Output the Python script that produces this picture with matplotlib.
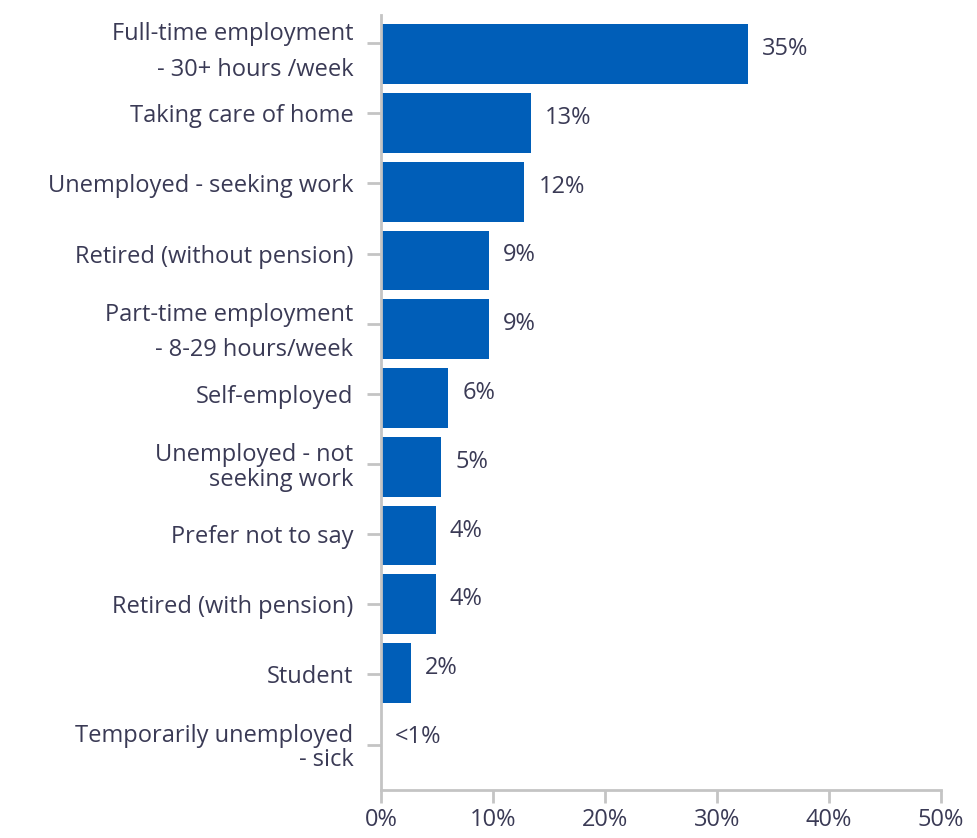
import matplotlib
matplotlib.use("Agg")
import matplotlib.pyplot as plt

# data
categories = [
    "Full-time employment\n- 30+ hours /week",
    "Taking care of home",
    "Unemployed - seeking work",
    "Retired (without pension)",
    "Part-time employment\n- 8-29 hours/week",
    "Self-employed",
    "Unemployed - not\nseeking work",
    "Prefer not to say",
    "Retired (with pension)",
    "Student",
    "Temporarily unemployed\n- sick",
]
bar_values = [32.8, 13.4, 12.8, 9.6, 9.6, 6.0, 5.4, 4.9, 4.9, 2.7, 0.0]
value_labels = ["35%", "13%", "12%", "9%", "9%", "6%", "5%", "4%", "4%", "2%", "<1%"]
x_ticks = [0, 10, 20, 30, 40, 50]
x_tick_labels = ["0%", "10%", "20%", "30%", "40%", "50%"]

text_col = "#3a3a55"
bar_col = "#005eb8"
grey = "#c4c4c4"

plt.rcParams['font.family'] = ['Open Sans', 'DejaVu Sans']
fs = 17

fig = plt.figure(figsize=(9.77, 8.38), dpi=100)
ax = fig.add_axes([0.39, 0.0573, 0.573, 0.9248])

y = list(range(len(categories)))
ax.barh(y, bar_values, height=0.87, color=bar_col)

for yi, v, lab in zip(y, bar_values, value_labels):
    ax.annotate(lab, (v, yi), xytext=(14, 5), textcoords='offset pixels',
                ha='left', va='center', fontsize=fs, color=text_col)

ax.set_xlim(0, 50)
ax.set_ylim(10.7, -0.57)
# the category ticks in the original are spaced a little wider than the bars
ax.set_yticks([1.02 * i - 0.16 for i in y])
ax.set_yticklabels(categories, fontsize=fs, color=text_col)
for i, t in enumerate(ax.get_yticklabels()):
    t.set_linespacing(1.65 if i in (0, 4) else 1.05)
ax.set_xticks(x_ticks)
ax.set_xticklabels(x_tick_labels, fontsize=fs, color=text_col)

for s in ['top', 'right']:
    ax.spines[s].set_visible(False)
for s in ['left', 'bottom']:
    ax.spines[s].set_color(grey)
    ax.spines[s].set_linewidth(2)
ax.tick_params(axis='y', length=10, width=2, color=grey, pad=10)
ax.tick_params(axis='x', length=9, width=2, color=grey, pad=4)

fig.savefig("out.png", dpi=100)
